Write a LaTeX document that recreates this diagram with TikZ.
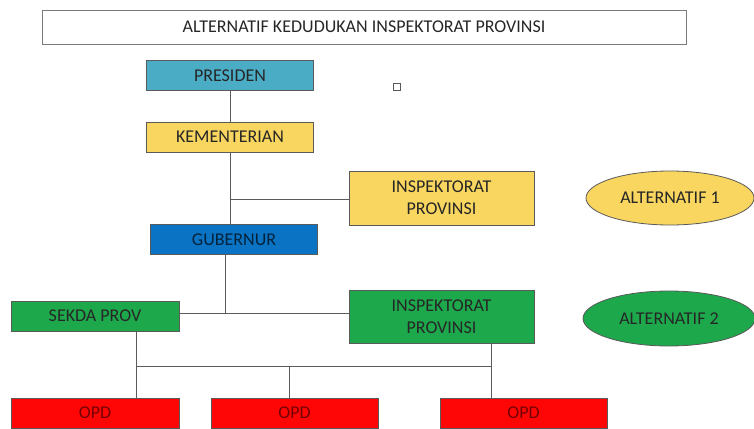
\documentclass[tikz,border=0pt]{standalone}
\usepackage{fontspec}
\setmainfont{Carlito}
\usetikzlibrary{positioning, shapes.geometric, calc}
\definecolor{presTeal}{HTML}{4BACC6}
\definecolor{kemYellow}{HTML}{F9D65F}
\definecolor{gubBlue}{HTML}{0A73C4}
\definecolor{sekGreen}{HTML}{1DA84C}
\definecolor{opdRed}{HTML}{FF0606}
\definecolor{edge}{HTML}{5A5A5A}
\definecolor{ink}{HTML}{262626}

\begin{document}
\begin{tikzpicture}[
  x=1pt, y=-1pt,
  font=\fontsize{18}{22}\selectfont,
  unit/.style={rectangle, draw=edge, line width=0.8pt, text=ink, align=center,
               inner sep=0pt, minimum width=167pt, minimum height=30pt},
  inspbox/.style={unit, minimum width=185pt, minimum height=54pt},
  alt/.style={ellipse, draw=edge, line width=0.8pt, text=ink, inner sep=0pt,
              minimum width=168pt, minimum height=54pt},
  link/.style={draw=edge, line width=0.8pt}
]
  % page frame
  \useasboundingbox (0,0) rectangle (754,428);

  % --- title ---
  \node[unit, minimum width=644pt, minimum height=34pt, draw=edge!80] (title)
    at (364,27) {ALTERNATIF KEDUDUKAN INSPEKTORAT PROVINSI};

  % --- central line of command ---
  \node[unit, fill=presTeal] (pres) at (230,75.5) {PRESIDEN};
  \node[unit, fill=kemYellow] (kem) at (230,137) {KEMENTERIAN};
  \node[unit, fill=gubBlue, text=gubBlue!30!black] (gub) at (234,239.5) {GUBERNUR};
  \node[unit, fill=sekGreen, minimum width=168pt] (sekda) at (95,316) {SEKDA PROV};

  % --- the two placements of the inspectorate ---
  \node[inspbox, fill=kemYellow] (insp1) at (441.5,198) {INSPEKTORAT\\PROVINSI};
  \node[inspbox, fill=sekGreen, minimum height=53pt] (insp2) at (441.5,316.5) {INSPEKTORAT\\PROVINSI};
  \node[alt, fill=kemYellow] (alt1) at (670,198) {ALTERNATIF 1};
  \node[alt, fill=sekGreen, minimum width=172pt, minimum height=55pt] (alt2) at (669,318.5) {ALTERNATIF 2};

  % --- OPD row (cut by the bottom edge) ---
  \node[unit, fill=opdRed, text=opdRed!45!black, minimum width=168pt] (opd1) at (95,413) {OPD};
  \node[unit, fill=opdRed, text=opdRed!45!black] (opd2) at (294.5,413) {OPD};
  \node[unit, fill=opdRed, text=opdRed!45!black] (opd3) at (523.5,413) {OPD};

  % stray marker
  \node[rectangle, draw=edge, line width=0.8pt, minimum size=7pt, inner sep=0pt] (mark) at (397,87) {};

  % --- connectors ---
  \coordinate (j1) at (230,199);
  \coordinate (j2) at (225,313);
  \coordinate (busL) at (136,366);
  \coordinate (busM) at (289,366);
  \coordinate (busR) at (491,366);
  \draw[link] (pres) -- (kem);
  \draw[link] (kem.south) -- (gub.north -| kem.south);
  \draw[link] (j1) -- (insp1.west |- j1);
  \draw[link] (gub.south -| j2) -- (j2);
  \draw[link] (sekda.east |- j2) -- (insp2.west |- j2);
  \draw[link] (sekda.south -| busL) -- (opd1.north -| busL);
  \draw[link] (busL) -- (busR);
  \draw[link] (busM) -- (opd2.north -| busM);
  \draw[link] (insp2.south -| busR) -- (opd3.north -| busR);

\end{tikzpicture}
\end{document}
